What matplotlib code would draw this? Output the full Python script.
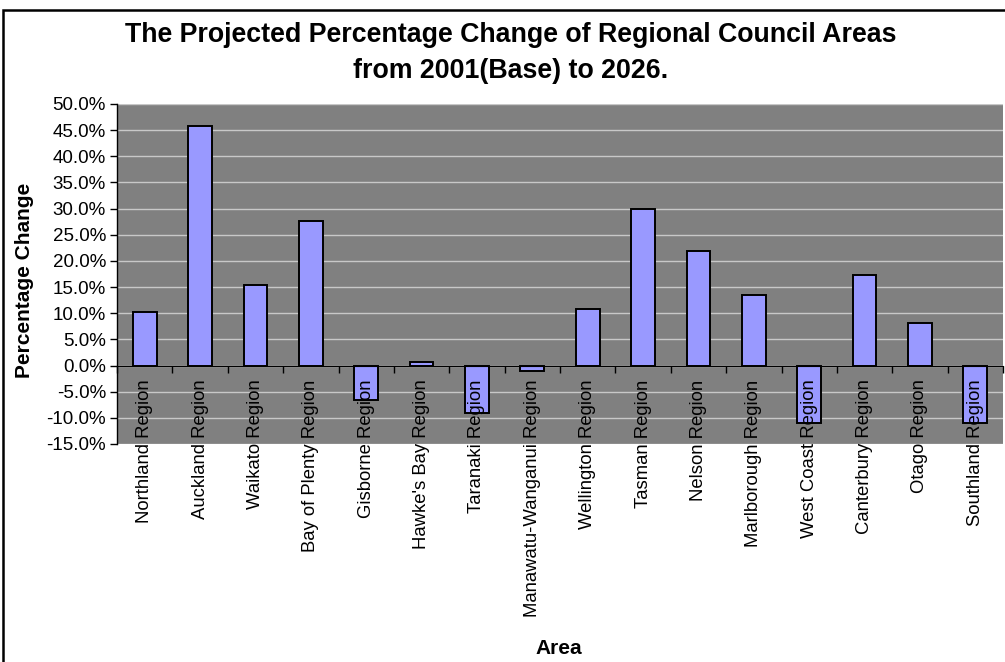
import numpy as np
import matplotlib.pyplot as plt
from matplotlib.patches import Rectangle
from matplotlib.ticker import FuncFormatter, FixedLocator

plt.rcParams['font.family'] = ['Liberation Sans', 'DejaVu Sans']

regions = ["Northland Region", "Auckland Region", "Waikato Region", "Bay of Plenty Region",
           "Gisborne Region", "Hawke's Bay Region", "Taranaki Region", "Manawatu-Wanganui Region",
           "Wellington Region", "Tasman Region", "Nelson Region", "Marlborough Region",
           "West Coast Region", "Canterbury Region", "Otago Region", "Southland Region"]
pct_change = [10.3, 45.7, 15.4, 27.6, -6.5, 0.6, -9.1, -1.0,
              10.9, 30.0, 21.9, 13.5, -10.9, 17.4, 8.1, -10.9]

W, H = 1005, 662
fig = plt.figure(figsize=(W / 100, H / 100), dpi=100)
# plot area in pixels: x 117..1003, y 104..444
ax = fig.add_axes([117 / W, 1 - 444 / H, (1003 - 117) / W, (444 - 104) / H])

# outer chart border (only left & top visible in the crop)
fig.patches.append(Rectangle((3 / W, -0.1), 1.2, 1 - 10 / H + 0.1, transform=fig.transFigure,
                             fill=False, edgecolor='black', linewidth=1.8))

x = np.arange(len(regions))
ax.set_facecolor('#808080')
ax.bar(x, pct_change, width=0.43, color='#9999FF', edgecolor='black', linewidth=1.4, zorder=2)

ax.set_xlim(-0.5, len(regions) - 0.5)
ax.set_ylim(-15, 50)
ax.set_yticks(np.arange(-15, 51, 5))
ax.yaxis.set_major_formatter(FuncFormatter(lambda v, p: f"{v:.1f}%"))
ax.set_axisbelow(True)
ax.grid(axis='y', color='#C8C8C8', linewidth=1.0)
ax.tick_params(axis='y', labelsize=13.5, length=5, width=1, pad=3)

for s in ['top', 'right']:
    ax.spines[s].set_visible(False)
ax.spines['bottom'].set_position(('data', 0))
ax.spines['bottom'].set_zorder(3)
ax.spines['left'].set_linewidth(1.0)

# ticks between categories, labels at category centres
ax.xaxis.set_major_locator(FixedLocator(np.arange(-0.5, len(regions), 1)))
ax.xaxis.set_minor_locator(FixedLocator(x))
ax.set_xticklabels([''] * (len(regions) + 1))
ax.set_xticklabels(regions, minor=True, rotation=90, fontsize=13.3)
ax.tick_params(axis='x', which='major', length=5, width=1, direction='out')
ax.tick_params(axis='x', which='minor', length=0, pad=10)
ax.xaxis.set_zorder(5)

fig.text(511 / W, 1 - 53.5 / H, "The Projected Percentage Change of Regional Council Areas\nfrom 2001(Base) to 2026.",
         ha='center', va='center', fontsize=19.3, fontweight='bold', linespacing=1.5)
fig.text(25 / W, 1 - 280 / H, "Percentage Change", rotation=90, ha='center', va='center',
         fontsize=15, fontweight='bold')
fig.text(559 / W, 1 - 648 / H, "Area", ha='center', va='center', fontsize=15, fontweight='bold')

fig.savefig('out.png', dpi=100)
